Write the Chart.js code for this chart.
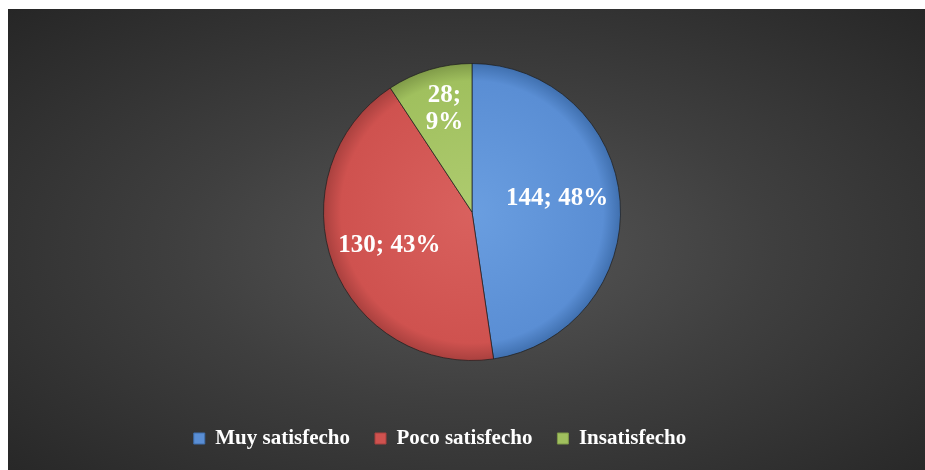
<!DOCTYPE html>
<html>
<head>
<meta charset="utf-8">
<script src="https://cdn.jsdelivr.net/npm/chart.js@4/dist/chart.umd.min.js"></script>
<style>
  html, body { margin: 0; padding: 0; background: #ffffff; }
  #chart-box {
    position: absolute;
    left: 8px;
    top: 9px;
    width: 917px;
    height: 461px;
    background: radial-gradient(ellipse farthest-corner at 51% 52%, #575757 0%, #3f3f3f 45%, #262626 100%);
  }
</style>
</head>
<body>
<div id="chart-box"><canvas id="satisfaccion"></canvas></div>
<script>
// datos
const categorias = ['Muy satisfecho', 'Poco satisfecho', 'Insatisfecho'];
const respuestas = [144, 130, 28];

const coloresBase = ['#5a8ed4', '#cf524f', '#a0c05e'];
const coloresClaros = ['#6a9ee0', '#d9615e', '#aecb6f'];
const coloresOscuros = ['#3f6fae', '#a8403e', '#7f9a48'];

const fuente = '"Liberation Serif", "Times New Roman", serif';

function rellenoPorcion(context) {
    const chart = context.chart;
    const area = chart.chartArea;
    const i = context.dataIndex;
    if (!area) return coloresBase[i];
    const cx = (area.left + area.right) / 2;
    const cy = (area.top + area.bottom) / 2;
    const r = Math.min(area.right - area.left, area.bottom - area.top) / 2;
    const g = chart.ctx.createRadialGradient(cx, cy, 0, cx, cy, r);
    g.addColorStop(0, coloresClaros[i]);
    g.addColorStop(0.88, coloresBase[i]);
    g.addColorStop(1, coloresOscuros[i]);
    return g;
}

// mueve la leyenda como en el original (algo a la izquierda y abajo)
const moverLeyenda = {
    id: 'moverLeyenda',
    afterLayout(chart, args, opts) {
        const lg = chart.legend;
        lg.left += opts.dx;
        lg.right += opts.dx;
        lg.top += opts.dy;
        lg.bottom += opts.dy;
    }
};

// etiquetas "valor; porcentaje" dentro de cada porcion
const etiquetas = {
    id: 'etiquetas',
    afterDatasetsDraw(chart, args, opts) {
        const ctx = chart.ctx;
        const datos = chart.data.datasets[0].data;
        const total = datos.reduce((a, b) => a + b, 0);
        const arcs = chart.getDatasetMeta(0).data;
        ctx.save();
        ctx.fillStyle = '#ffffff';
        ctx.font = 'bold 25px ' + fuente;
        ctx.textAlign = 'center';
        ctx.textBaseline = 'middle';
        arcs.forEach((arc, i) => {
            const p = arc.getProps(['x', 'y', 'startAngle', 'endAngle', 'outerRadius'], true);
            const mid = (p.startAngle + p.endAngle) / 2 + opts.giro[i];
            const d = p.outerRadius * opts.distancia[i];
            const x = p.x + Math.cos(mid) * d;
            const y = p.y + Math.sin(mid) * d;
            const pct = Math.round(datos[i] / total * 100);
            let lineas = [datos[i] + '; ' + pct + '%'];
            if (p.endAngle - p.startAngle < 0.8) {
                lineas = [datos[i] + ';', pct + '%'];
            }
            const alto = 27;
            lineas.forEach((t, k) => {
                ctx.fillText(t, x, y + (k - (lineas.length - 1) / 2) * alto);
            });
        });
        ctx.restore();
    }
};

const ctx = document.getElementById('satisfaccion').getContext('2d');
const chart = new Chart(ctx, {
    type: 'pie',
    data: {
        labels: categorias,
        datasets: [{
            data: respuestas,
            backgroundColor: rellenoPorcion,
            borderColor: 'rgba(30, 30, 30, 0.7)',
            borderWidth: 1
        }]
    },
    options: {
        responsive: true,
        maintainAspectRatio: false,
        animation: false,
        layout: {
            padding: { top: 54, left: 11, right: 0, bottom: 53 }
        },
        plugins: {
            legend: {
                position: 'bottom',
                labels: {
                    color: '#ffffff',
                    boxWidth: 11,
                    boxHeight: 11,
                    padding: 25,
                    font: { family: fuente, size: 21, weight: 'bold' },
                    generateLabels: (chart) => categorias.map((c, i) => ({
                        text: c,
                        fillStyle: coloresBase[i],
                        strokeStyle: coloresOscuros[i],
                        lineWidth: 1,
                        fontColor: '#ffffff',
                        hidden: false,
                        index: i
                    }))
                }
            },
            tooltip: { enabled: false },
            moverLeyenda: { dx: -32, dy: 42 },
            etiquetas: { distancia: [0.58, 0.6, 0.72], giro: [-0.08, -0.02, 0.03] }
        }
    },
    plugins: [moverLeyenda, etiquetas]
});
</script>
</body>
</html>
